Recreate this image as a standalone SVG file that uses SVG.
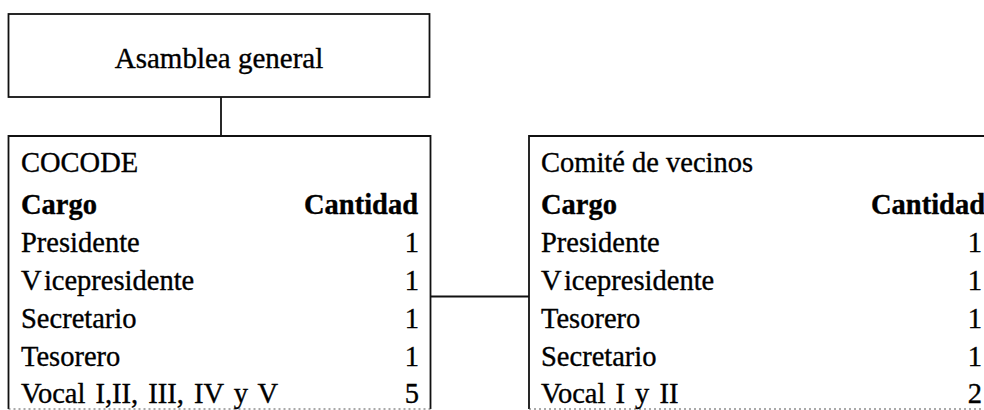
<svg xmlns="http://www.w3.org/2000/svg" width="984" height="410" viewBox="0 0 984 410">
<style>
.box{fill:none;stroke:#111;stroke-width:1.8}
.edge{fill:none;stroke:#111;stroke-width:1.8}
.bot{fill:none;stroke:#555;stroke-width:1;stroke-dasharray:2 3}
text{font-family:"Liberation Serif","Times New Roman",serif;font-size:28.5px;fill:#000;stroke:#000;stroke-width:0.35}
.b{font-weight:bold}
.e{text-anchor:end}
.w{word-spacing:3px}
</style>
<rect width="984" height="410" fill="#fff"/>
<g id="connectors">
<line class="edge" x1="221" y1="97" x2="221" y2="136"/>
<line class="edge" x1="430" y1="296.5" x2="529" y2="296.5"/>
</g>
<g id="asamblea">
<rect class="box" x="8.5" y="14" width="421" height="83"/>
<text x="219" y="68" text-anchor="middle" style="font-size:29px">Asamblea general</text>
</g>
<g id="cocode">
<path class="box" d="M8.5 409 V136 H430.5 V409"/>
<line class="bot" x1="8.5" y1="409" x2="430.5" y2="409"/>
<text x="21" y="172">COCODE</text>
<text class="b" x="21" y="214">Cargo</text>
<text class="b e" x="418" y="214">Cantidad</text>
<text x="21" y="252">Presidente</text><text class="e" x="419" y="252">1</text>
<text x="21" y="290">V<tspan dx="4">icepresidente</tspan></text><text class="e" x="419" y="290">1</text>
<text x="21" y="328">Secretario</text><text class="e" x="419" y="328">1</text>
<text x="21" y="366">Tesorero</text><text class="e" x="419" y="366">1</text>
<text class="w" x="21" y="403">Vocal I,II, III, IV y V</text><text class="e" x="419" y="403">5</text>
</g>
<g id="comite">
<path class="box" d="M529 409 V136 H990"/>
<line class="bot" x1="529" y1="409" x2="984" y2="409"/>
<text x="541" y="172">Comité de vecinos</text>
<text class="b" x="541" y="214">Cargo</text>
<text class="b e" x="985" y="214">Cantidad</text>
<text x="541" y="252">Presidente</text><text class="e" x="982" y="252">1</text>
<text x="541" y="290">V<tspan dx="4">icepresidente</tspan></text><text class="e" x="982" y="290">1</text>
<text x="541" y="328">Tesorero</text><text class="e" x="982" y="328">1</text>
<text x="541" y="366">Secretario</text><text class="e" x="982" y="366">1</text>
<text class="w" x="541" y="403">Vocal I y II</text><text class="e" x="982" y="403">2</text>
</g>
</svg>
